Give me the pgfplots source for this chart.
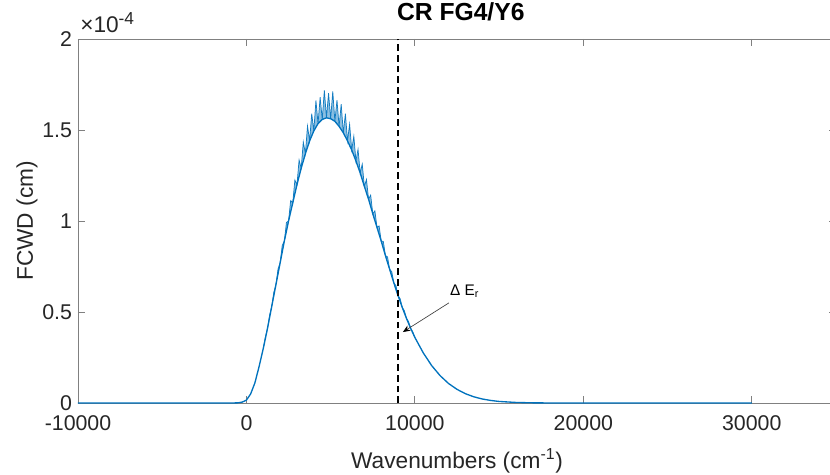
\documentclass[border=0pt]{standalone}
\usepackage{pgfplots}
\pgfplotsset{compat=1.18}
\usepackage{pgfplotstable}
\usepgfplotslibrary{fillbetween}
\usepackage{fontspec}
\setmainfont{Liberation Sans}
\usetikzlibrary{arrows.meta,calc}

\definecolor{mblue}{rgb}{0,0.447,0.741}
\definecolor{axgray}{rgb}{0.50,0.50,0.50}
\definecolor{txtgray}{rgb}{0.15,0.15,0.15}

% smooth FCWD envelope (units of 1e-4 cm)
\pgfplotstableread{
x y
-10000 0
-2000 0
-1000 0
-750 0.0003
-500 0.001
-250 0.005
0 0.016
250 0.05
500 0.11
750 0.20
1000 0.30
1250 0.41
1500 0.53
1750 0.65
2000 0.77
2250 0.89
2500 1.00
2750 1.10
3000 1.20
3250 1.29
3500 1.37
3750 1.44
4000 1.495
4250 1.535
4500 1.558
4750 1.567
5000 1.562
5250 1.548
5500 1.52
5750 1.485
6000 1.44
6250 1.39
6500 1.33
6750 1.265
7000 1.19
7250 1.12
7500 1.04
7750 0.965
8000 0.89
8250 0.81
8500 0.735
8750 0.66
9000 0.59
9250 0.525
9500 0.465
9750 0.41
10000 0.36
10500 0.275
11000 0.205
11500 0.15
12000 0.107
12500 0.075
13000 0.051
13500 0.034
14000 0.022
14500 0.014
15000 0.0085
16000 0.003
17000 0.0009
18000 0.0002
19000 0
30000 0
}\envelope

% vibronic fine structure riding on the envelope
\pgfplotstableread{
x y
1000 0.300
1125 0.362
1250 0.410
1375 0.482
1500 0.530
1625 0.608
1750 0.650
1875 0.736
2000 0.770
2125 0.866
2250 0.890
2375 0.992
2500 1.000
2625 1.112
2750 1.100
2875 1.225
3000 1.200
3125 1.335
3250 1.290
3375 1.434
3500 1.370
3625 1.522
3750 1.440
3875 1.590
4000 1.495
4125 1.662
4250 1.535
4375 1.680
4500 1.558
4625 1.718
4750 1.567
4875 1.702
5000 1.562
5125 1.712
5250 1.548
5375 1.664
5500 1.520
5625 1.642
5750 1.485
5875 1.590
6000 1.440
6125 1.532
6250 1.390
6375 1.466
6500 1.330
6625 1.394
6750 1.265
6875 1.312
7000 1.190
7125 1.228
7250 1.120
7375 1.142
7500 1.040
7625 1.056
7750 0.965
7875 0.973
8000 0.890
8125 0.888
8250 0.810
8375 0.803
8500 0.735
8625 0.722
8750 0.660
8875 0.645
9000 0.590
9125 0.573
9250 0.525
9375 0.507
9500 0.465
9625 0.447
9750 0.410
9875 0.391
10000 0.360
}\finestructure

\begin{document}
\begin{tikzpicture}
\begin{axis}[
  at={(0,0)}, anchor=south west,
  scale only axis, width=568.5pt, height=273pt,
  xmin=-10000, xmax=35000, ymin=0, ymax=2,
  clip=false,
  scaled x ticks=false, scaled y ticks=false,
  xtick={-10000,0,10000,20000,30000},
  xticklabels={-10000,0,10000,20000,30000},
  ytick={0,0.5,1,1.5,2},
  yticklabels={0,0.5,1,1.5,2},
  axis line style={draw=axgray, line width=0.6pt},
  every tick/.style={draw=axgray, line width=0.6pt},
  major tick length=5.25pt,
  tick align=inside,
  tick label style={font=\fontsize{16}{19}\selectfont, text=txtgray},
  xticklabel style={yshift=-6pt},
  yticklabel style={xshift=-1pt},
  xlabel={Wavenumbers (cm\textsuperscript{-1})},
  ylabel={FCWD (cm)},
  label style={font=\fontsize{17}{20}\selectfont, text=txtgray},
  xlabel style={at={(rel axis cs:0.5,-0.1795)}, anchor=base},
  ylabel style={at={(rel axis cs:-0.0594,0.5)}, anchor=base},
  title={CR FG4/Y6},
  title style={at={(rel axis cs:0.505,1.0275)}, anchor=base,
    font=\bfseries\fontsize{18.5}{22}\selectfont},
]
\addplot[name path=fine, mblue, line width=0.55pt, opacity=0.9] table {\finestructure};
\addplot[name path=env, mblue, line width=1pt] table {\envelope};
\addplot[mblue, opacity=0.45, draw=none]
  fill between[of=fine and env, soft clip={domain=1000:10000}];
\addplot[black, line width=1.1pt, dash pattern=on 5pt off 3pt] coordinates {(9000,0) (9000,2)};
\draw[black!75, line width=0.5pt, -{Stealth[length=5.5pt,width=4.5pt,color=black]}]
  (axis cs:12018,0.55) -- (axis cs:9288,0.39);
\node[anchor=base west, inner sep=0pt, font=\fontsize{11.5}{13}\selectfont]
  at (axis cs:12077,0.593) {Δ E\textsubscript{r}};
\node[anchor=base west, inner sep=0pt, font=\fontsize{17}{20}\selectfont, text=txtgray]
  at ($(rel axis cs:0,1)+(1.5pt,4.5pt)$) {×10\textsuperscript{\fontsize{13}{15}\selectfont -4}};
\end{axis}
\pgfresetboundingbox
\useasboundingbox (-58.5pt,-53.25pt) rectangle (564pt,302.25pt);
\end{tikzpicture}
\end{document}
